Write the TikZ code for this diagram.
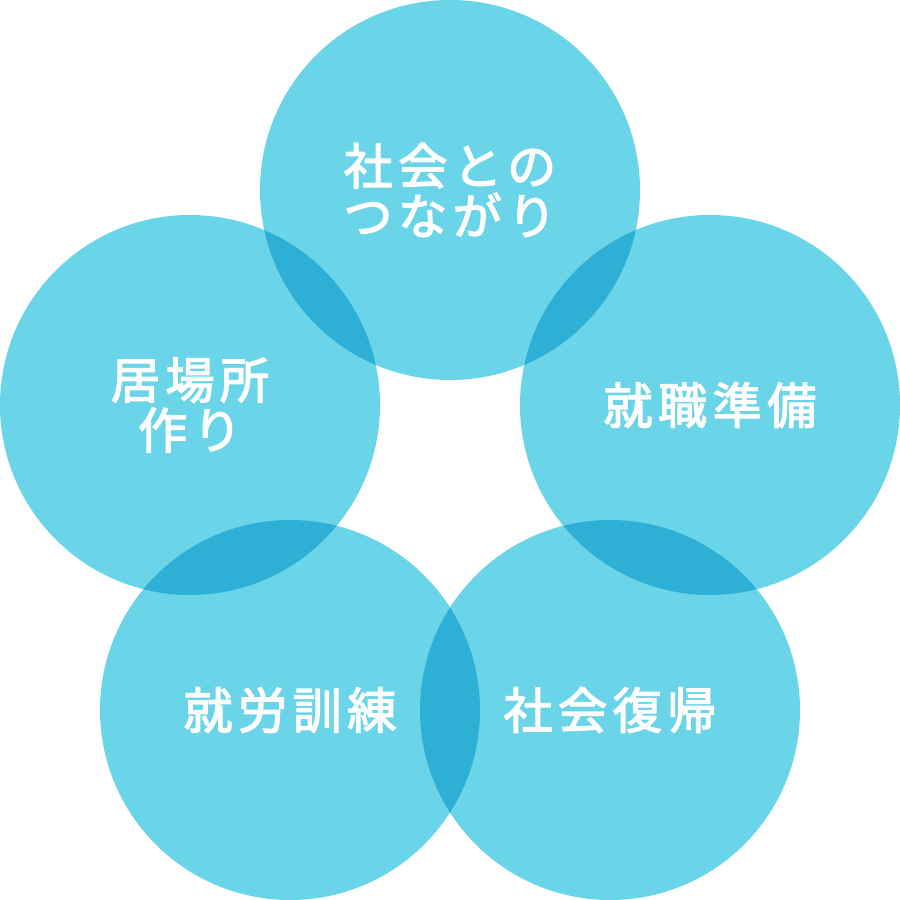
\documentclass[tikz,border=0pt]{standalone}
\usepackage{fontspec}
\newfontfamily\jpfont[LetterSpace=11,FakeBold=2.6]{Noto Sans CJK JP}
\usetikzlibrary{backgrounds}
\definecolor{ringblue}{HTML}{6AD4E8}
\definecolor{deepblue}{HTML}{2EAFD6}

\begin{document}
\begin{tikzpicture}[ring/.style = {circle, minimum size=7.6cm, inner sep=0pt, text=white, align=center,
          font=\jpfont\fontsize{28pt}{28.5pt}\selectfont}]
        \useasboundingbox (0,0) rectangle (18,18);
        \node[ring](top) at (9,14.2){社会との\\つながり};
        \node[ring](left) at (3.8,9.9){居場所\\作り};
        \node[ring](right) at (14.2,9.9){就職準備};
        \node[ring](lower left) at (5.8,3.8){就労訓練};
        \node[ring](lower right) at (12.2,3.8){社会復帰};

        \begin{scope}[on background layer]
          \foreach \c in {top,left,right,lower left,lower right}
            \fill[ringblue] (\c.center) circle (3.8);
          % overlaps of neighbouring circles
          \foreach \a/\b in {top/left,top/right,left/lower left,right/lower right,lower left/lower right}
          {
            \begin{scope}
              \clip (\a.center) circle (3.8);
              \fill[deepblue] (\b.center) circle (3.8);
            \end{scope}
          }
        \end{scope}
      \end{tikzpicture}
\end{document}
